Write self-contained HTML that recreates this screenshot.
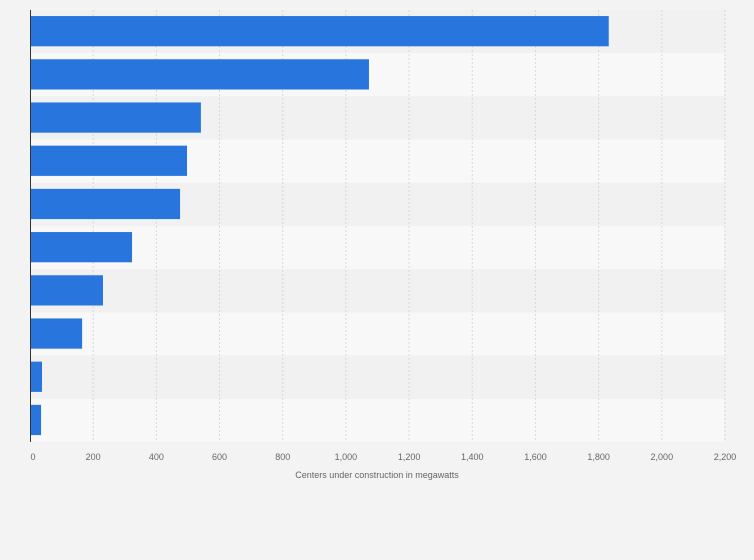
<!DOCTYPE html>
<html><head><meta charset="utf-8"><style>
body{margin:0;background:#f3f3f3;font-family:"Liberation Sans",sans-serif}
svg{display:block}
</style></head><body>
<svg id="chart" width="754" height="560" xmlns="http://www.w3.org/2000/svg">
<rect width="754" height="560" fill="#f3f3f3"/>
<g id="bands"></g><g id="grid"></g><g id="bars"></g><g id="ticks"></g>
<line x1="30.5" y1="10" x2="30.5" y2="442" stroke="#333" stroke-width="1"/>
<text x="377" y="478" text-anchor="middle" font-size="9" fill="#666">Centers under construction in megawatts</text>
</svg>
<script>
const categories=["c1","c2","c3","c4","c5","c6","c7","c8","c9","c10"];
const values=[1832,1073,541,497,475,323,231,165,38,35];
const tickValues=[0,200,400,600,800,1000,1200,1400,1600,1800,2000,2200];
const tickLabels=["0","200","400","600","800","1,000","1,200","1,400","1,600","1,800","2,000","2,200"];
const NS="http://www.w3.org/2000/svg";
const xStart=30,xEnd=725,plotTop=10,plotBottom=442,maxV=2200;
const xScale=v=>xStart+v/maxV*(xEnd-xStart);
const rowH=(plotBottom-plotTop)/categories.length;
const bandsG=document.getElementById('bands'),gridG=document.getElementById('grid'),barsG=document.getElementById('bars'),ticksG=document.getElementById('ticks');
function mk(t,a){const e=document.createElementNS(NS,t);for(const k in a)e.setAttribute(k,a[k]);return e;}
categories.forEach((c,i)=>{
  const b=mk('rect',{x:xStart,y:plotTop+i*rowH,width:xEnd-xStart,height:rowH,fill:i%2?'#f8f8f8':'#f1f1f1'});
  
  
  bandsG.appendChild(b);
  const r=mk('rect',{x:xStart,y:plotTop+i*rowH+rowH*0.14,width:xScale(values[i])-xStart,height:rowH*0.7,fill:'#2876dd'});
  
  
  barsG.appendChild(r);
});
tickValues.forEach((v,i)=>{
  if(v>0){const l=mk('line',{x1:xScale(v),x2:xScale(v),y1:plotTop,y2:plotBottom,stroke:'#d8d8d8','stroke-dasharray':'2,2'});
  
  
  gridG.appendChild(l);}
  const t=mk('text',{x:xScale(v)+(v===0?3:0),y:460,'text-anchor':'middle','font-size':'9',fill:'#666'});
  t.textContent=tickLabels[i];
  
  
  ticksG.appendChild(t);
});
</script>
</body></html>
